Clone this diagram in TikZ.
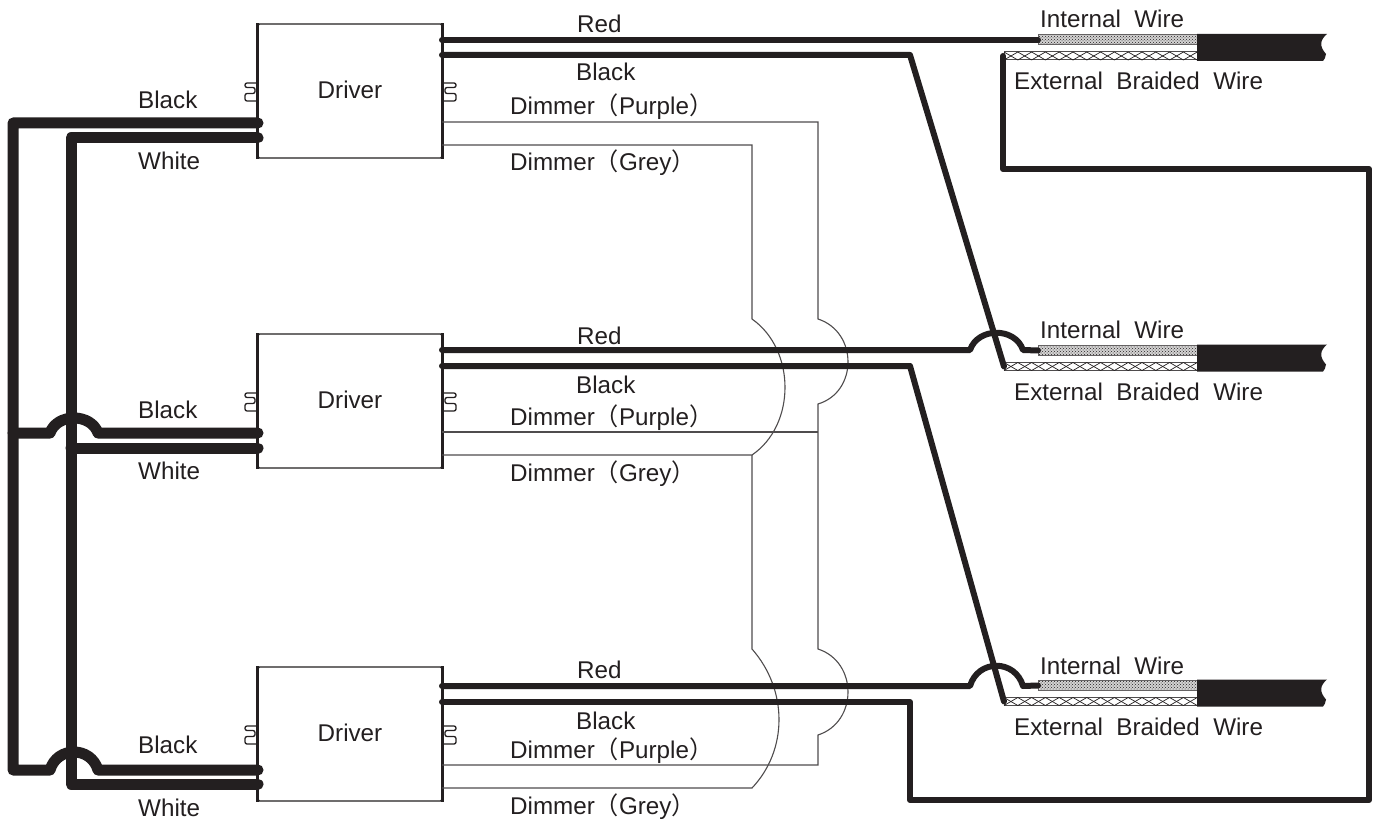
\documentclass[tikz,border=0pt]{standalone}
\usepackage{fontspec}
\setmainfont{Liberation Sans}
\newfontfamily\cjk{Noto Sans CJK SC}
\usetikzlibrary{patterns}
\definecolor{inkblack}{HTML}{231F20}
\newcommand{\lp}{{\cjk （}}
\newcommand{\rp}{{\cjk ）}}
\tikzset{
  driverbox/.style={draw=inkblack, line width=1.4pt, fill=white, rounded corners=1.5pt, minimum width=184pt, minimum height=134pt, inner sep=0pt, font=\fontsize{24.2}{28}\selectfont, text=inkblack},
  wirelabel/.style={anchor=base west, inner sep=0pt, font=\fontsize{24.2}{28}\selectfont, text=inkblack},
  mainswire/.style={draw=inkblack, line width=11pt, line join=round, line cap=round},
  ledwire/.style={draw=inkblack, line width=6pt, line join=round, line cap=round},
  dimwire/.style={draw=inkblack!80, line width=1.1pt},
  clipline/.style={draw=inkblack, line width=1.3pt, rounded corners=2pt},
  innerwire/.style={draw=inkblack!70, line width=1pt, preaction={fill=inkblack!20}, pattern=crosshatch dots, pattern color=inkblack, minimum width=159pt, minimum height=10pt, inner sep=0pt, anchor=west},
  braidwire/.style={draw=inkblack!80, line width=1pt, minimum width=193pt, minimum height=8pt, inner sep=0pt, anchor=west}
}

\begin{document}
\begin{tikzpicture}[x=1pt, y=-1pt]
  \useasboundingbox (0,0) rectangle (1382,821);
  \fill[white] (0,0) rectangle (1382,821);

  % drivers
  \foreach \n/\y in {1/91, 2/401, 3/734} {
    \node[driverbox] (driver\n) at (350,\y) {\raisebox{2pt}{Driver}};
    \draw[inkblack, line width=3pt] (driver\n.north west) -- (driver\n.south west);
    \draw[inkblack, line width=3pt] (driver\n.north east) -- (driver\n.south east);
    \draw[clipline] (258,\y-8) -- (245,\y-8) -- (245,\y-3.5) -- (255,\y-3.5) -- (255,\y+2.5) -- (245,\y+2.5) -- (245,\y+10) -- (258,\y+10);
    \draw[clipline] (442,\y-8) -- (456,\y-8) -- (456,\y-3.5) -- (445,\y-3.5) -- (445,\y+2.5) -- (456,\y+2.5) -- (456,\y+10) -- (442,\y+10);
  }

  % dimmer lines
  \coordinate (purple1) at (442,122);
  \coordinate (grey1) at (442,145);
  \coordinate (purple2) at (442,432);
  \coordinate (grey2) at (442,455);
  \coordinate (purple3) at (442,765);
  \coordinate (grey3) at (442,788);
  \draw[dimwire] (purple1) -- (818,122) -- (818,319) .. controls (858,332) and (858,392) .. (818,404) -- (818,649) .. controls (858,662) and (858,722) .. (818,735) -- (818,765) -- (purple3);
  \draw[dimwire] (purple2) -- (818,432);
  \draw[dimwire] (grey1) -- (752,145) -- (752,319) .. controls (796,350) and (796,425) .. (752,455) -- (grey2);
  \draw[dimwire] (752,455) -- (752,649) .. controls (788,690) and (788,750) .. (752,788) -- (grey3);

  % cable ends
  \foreach \n/\y in {1/0, 2/310.5, 3/645.5} {
    \node[braidwire] (braid\n) at (1004,56+\y) {};
    \foreach \i in {0,...,13} {
      \draw[inkblack, line width=0.7pt] (1004+13.8*\i,52+\y) -- (1017.8+13.8*\i,60+\y);
      \draw[inkblack, line width=0.7pt] (1004+13.8*\i,60+\y) -- (1017.8+13.8*\i,52+\y);
    }
    \node[innerwire] (inner\n) at (1038,40+\y) {};
    \fill[inkblack] (1197,34+\y) -- (1327,34+\y) .. controls (1320,40+\y) and (1319,46+\y) .. (1326,54+\y) .. controls (1326,57+\y) and (1324,60+\y) .. (1323,61+\y) -- (1197,61+\y) -- cycle;
  }

  % red wires
  \coordinate (red1) at (442,40);
  \coordinate (red2) at (442,350);
  \coordinate (red3) at (442,686);
  \draw[ledwire] (red1) -- (inner1.west);
  \draw[ledwire] (red2) -- (970,350) .. controls (978,327) and (1015,327) .. (1023,350) -- (inner2.west);
  \draw[ledwire] (red3) -- (970,686) .. controls (978,659) and (1015,659) .. (1023,686) -- (inner3.west);

  % black wires
  \coordinate (black1) at (442,55);
  \coordinate (black2) at (442,366);
  \coordinate (black3) at (442,702);
  \draw[ledwire] (black1) -- (910,55) -- (braid2.west);
  \draw[ledwire] (black2) -- (910,366) -- (braid3.west);
  \draw[ledwire] (black3) -- (910,702) -- (910,800) -- (1369,800) -- (1369,169) -- (1003,169) -- (1003,56);

  % mains wires
  \coordinate (mainsl1) at (258,123);
  \coordinate (mainsn1) at (258,138);
  \coordinate (mainsl2) at (258,433);
  \coordinate (mainsn2) at (258,448);
  \coordinate (mainsl3) at (258,770);
  \coordinate (mainsn3) at (258,784);
  \draw[mainswire] (mainsl1) -- (13,123) -- (13,770) -- (50,770) .. controls (57,746) and (91,746) .. (98,770) -- (mainsl3);
  \draw[mainswire] (13,433) -- (50,433) .. controls (57,413) and (91,413) .. (98,433) -- (mainsl2);
  \draw[mainswire] (mainsn1) -- (71,138) -- (71,784) -- (mainsn3);
  \draw[mainswire] (71,448) -- (mainsn2);

  % labels
  \node[wirelabel] (lblred1) at (577,33) {Red};
  \node[wirelabel] (lblblack1) at (576,81) {Black};
  \node[wirelabel] (lblpurple1) at (510,115) {Dimmer\lp Purple\rp};
  \node[wirelabel] (lblgrey1) at (510,171) {Dimmer\lp Grey\rp};
  \node[wirelabel] (lblred2) at (577,344) {Red};
  \node[wirelabel] (lblblack2) at (576,393) {Black};
  \node[wirelabel] (lblpurple2) at (510,425) {Dimmer\lp Purple\rp};
  \node[wirelabel] (lblgrey2) at (510,481) {Dimmer\lp Grey\rp};
  \node[wirelabel] (lblred3) at (577,678) {Red};
  \node[wirelabel] (lblblack3) at (576,729) {Black};
  \node[wirelabel] (lblpurple3) at (510,758) {Dimmer\lp Purple\rp};
  \node[wirelabel] (lblgrey3) at (510,814) {Dimmer\lp Grey\rp};
  \node[wirelabel] (lblmainsl1) at (138,109) {Black};
  \node[wirelabel] (lblmainsn1) at (138,170) {White};
  \node[wirelabel] (lblmainsl2) at (138,418) {Black};
  \node[wirelabel] (lblmainsn2) at (138,479) {White};
  \node[wirelabel] (lblmainsl3) at (138,753) {Black};
  \node[wirelabel] (lblmainsn3) at (138,816) {White};
  \node[wirelabel] (lblinner1) at (1040,28) {Internal\ \ Wire};
  \node[wirelabel] (lblouter1) at (1014,90) {External\ \ Braided\ \ Wire};
  \node[wirelabel] (lblinner2) at (1040,338) {Internal\ \ Wire};
  \node[wirelabel] (lblouter2) at (1014,400) {External\ \ Braided\ \ Wire};
  \node[wirelabel] (lblinner3) at (1040,674) {Internal\ \ Wire};
  \node[wirelabel] (lblouter3) at (1014,735) {External\ \ Braided\ \ Wire};
\end{tikzpicture}
\end{document}
